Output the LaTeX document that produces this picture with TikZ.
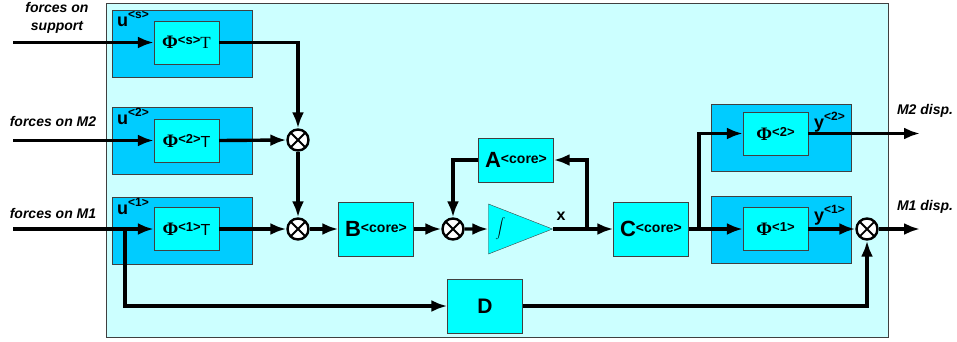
\documentclass[tikz,border=0pt]{standalone}
\usepackage{fontspec}
\setmainfont{Liberation Sans}
\newfontfamily\phifont{Liberation Serif}
\usetikzlibrary{arrows.meta,shapes.geometric}

\definecolor{panelbg}{HTML}{CCFFFF}
\definecolor{modebg}{HTML}{00CCFF}
\definecolor{blockbg}{HTML}{00FFFF}

% superscripts and block labels
\newcommand{\sps}[2][12]{\raisebox{0.4em}{\fontsize{#1}{#1}\selectfont\bfseries #2}}
\newcommand{\phit}[2]{{\phifont\bfseries\fontsize{19}{19}\selectfont Φ}\sps[13]{#1}{#2}}
\newcommand{\coremat}[1]{{\fontsize{22}{22}\selectfont\bfseries #1}\sps[14]{<core>}}

\begin{document}
\begin{tikzpicture}[x=1pt, y=-1pt, >={Latex[length=16pt,width=12pt]},
    modebox/.style={draw=black!75, fill=modebg, minimum width=140pt, minimum height=67pt, inner sep=0pt},
    phibox/.style={draw=black!75, fill=blockbg, minimum width=65pt, minimum height=43pt, inner sep=0pt},
    coreblk/.style={draw=black!75, fill=blockbg, minimum width=75pt, minimum height=54pt, inner sep=0pt},
    summer/.style={circle, draw, fill=white, line width=2.4pt, minimum size=21pt, inner sep=0pt,
      path picture={\draw[line width=1.8pt]
        (path picture bounding box.south west) -- (path picture bounding box.north east)
        (path picture bounding box.north west) -- (path picture bounding box.south east);}},
    wire/.style={line width=3.4pt},
    sig/.style={font=\bfseries\itshape\fontsize{14}{18}\selectfont, align=center},
    ulab/.style={anchor=base west, font=\bfseries\fontsize{18}{18}\selectfont, inner sep=0pt}]
    \useasboundingbox (0,0) rectangle (957,341);

    \draw[draw=black!75, fill=panelbg] (106,3) rectangle (888,337);

    % modal input boxes
    \node[modebox] (supO) at (182,43.5) {};
    \node[modebox] (m2O) at (182,141) {};
    \node[modebox] (m1O) at (182,231) {};
    \node[ulab] (uS) at (117,26) {u\sps[12]{<s>}};
    \node[ulab] (u2) at (117,124) {u\sps[12]{<2>}};
    \node[ulab] (u1) at (117,214) {u\sps[12]{<1>}};
    \node[phibox] (supI) at (186.5,42.5) {\phit{<s>}{\phifont\fontsize{17}{17}\selectfont T}};
    \node[phibox] (m2I) at (186.5,140.5) {\phit{<2>}{\fontsize{16}{16}\selectfont T}};
    \node[phibox] (m1I) at (186.5,229) {\phit{<1>}{\fontsize{16}{16}\selectfont T}};

    % modal output boxes
    \node[modebox] (y2O) at (781.5,138) {};
    \node[modebox] (y1O) at (781.5,229.5) {};
    \node[phibox] (y2I) at (775.5,133.5) {\phit{<2>}{}};
    \node[phibox] (y1I) at (775.5,229) {\phit{<1>}{}};
    \node[ulab] (y2) at (814,128) {y\sps[12]{<2>}};
    \node[ulab] (y1) at (814,221) {y\sps[12]{<1>}};

    % core blocks
    \node[coreblk] (B) at (376,229) {\coremat{B}};
    \node[coreblk, minimum height=44pt] (A) at (516,160) {\coremat{A}};
    \node[coreblk] (C) at (651,229) {\coremat{C}};
    \node[coreblk] (D) at (485,306) {\fontsize{21}{21}\selectfont\bfseries D};
    \node[isosceles triangle, isosceles triangle stretches, draw=black!75, fill=blockbg,
      minimum width=50pt, minimum height=64pt, inner sep=0pt, anchor=apex] (integ) at (553,229)
      {\fontsize{17}{17}\selectfont$\displaystyle\int$\hspace{14pt}};
    \node[font=\bfseries\fontsize{16}{16}\selectfont] (xlab) at (561,216) {x};

    % summing junctions
    \node[summer] (sum1) at (298,140) {};
    \node[summer] (sum2) at (298,229) {};
    \node[summer] (sum3) at (453,229) {};
    \node[summer] (sum4) at (867,229) {};

    % inputs and outputs
    \node[sig] (fS) at (57,18) {forces on\\support};
    \node[sig] (f2) at (53,121) {forces on M2};
    \node[sig] (f1) at (53,213) {forces on M1};
    \node[sig] (dM2) at (925,111) {M2 disp.};
    \node[sig] (dM1) at (925,207) {M1 disp.};
    \coordinate (inS) at (13,42.5);
    \coordinate (in2) at (13,140.5);
    \coordinate (in1) at (13,229);
    \coordinate (br1) at (125,229);
    \coordinate (jx) at (587,229);
    \coordinate (jc) at (699,229);
    \coordinate (outM2) at (920,133.5);
    \coordinate (outM1) at (920,229);

    % connectors
    \draw[wire, ->] (inS) -- (supI.west);
    \draw[wire, ->] (in2) -- (m2I.west);
    \draw[wire, ->] (in1) -- (m1I.west);
    \draw[wire, ->] (supI.east) -| (sum1.north);
    \draw[wire, ->] (m2I.east) -- (sum1.west);
    \draw[wire, ->] (sum1.south) -- (sum2.north);
    \draw[wire, ->] (m1I.east) -- (sum2.west);
    \draw[wire, ->] (sum2.east) -- (B.west);
    \draw[wire, ->] (B.east) -- (sum3.west);
    \draw[wire, ->] (sum3.east) -- (integ.west);
    \draw[wire, ->] (integ.apex) -- (C.west);
    \draw[wire, ->] (jx) |- (A.east);
    \draw[wire, ->] (A.west) -| (sum3.north);
    \draw[wire, ->] (C.east) -- (y1I.west);
    \draw[wire, ->] (jc) |- (y2I.west);
    \draw[wire, ->] (y2I.east) -- (outM2);
    \draw[wire, ->] (y1I.east) -- (sum4.west);
    \draw[wire, ->] (sum4.east) -- (outM1);
    \draw[wire, ->] (br1) |- (D.west);
    \draw[wire, ->] (D.east) -| (sum4.south);
\end{tikzpicture}
\end{document}
